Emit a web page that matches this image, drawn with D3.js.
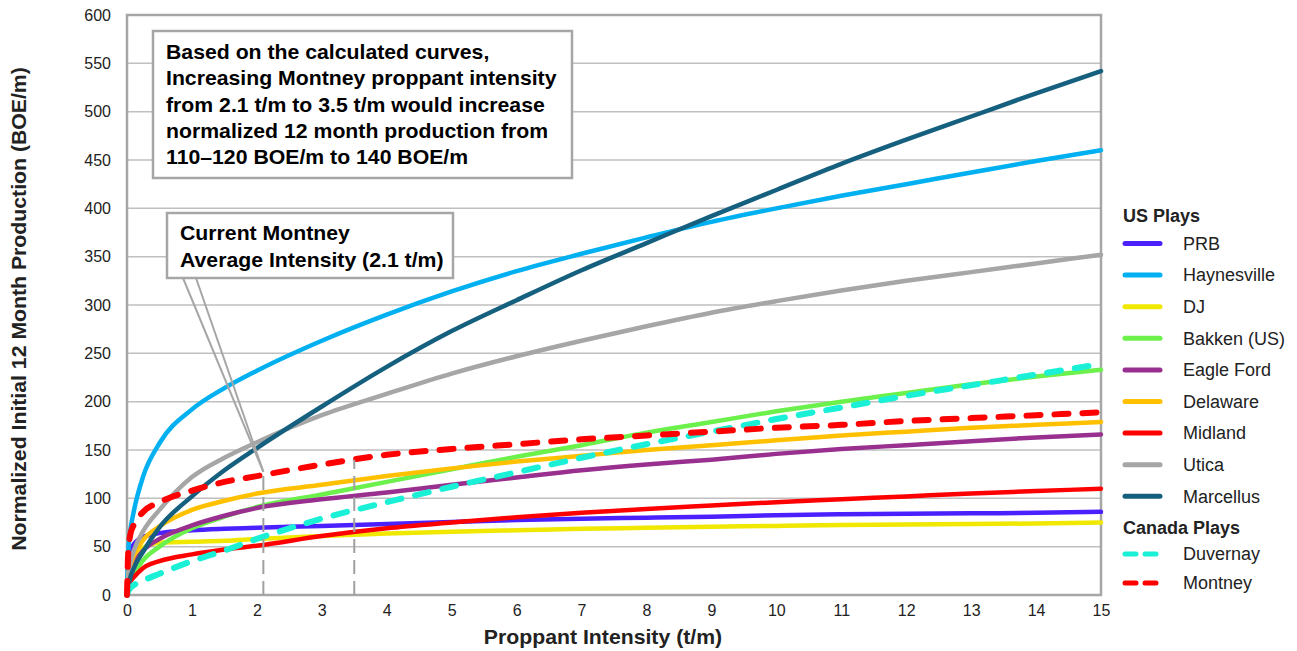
<!DOCTYPE html>
<html>
<head>
<meta charset="utf-8">
<script src="https://cdn.jsdelivr.net/npm/d3@7"></script>
<style>
  html, body { margin: 0; padding: 0; background: #fff; }
  svg { display: block; font-family: "Liberation Sans", Arial, sans-serif; }
</style>
</head>
<body>
<svg id="chart" width="1297" height="651"></svg>
<script>
// Proppant intensity (t/m) sample points shared by every curve
const intensity = [0, 0.02, 0.05, 0.1, 0.25, 0.5, 1, 1.5, 2, 3, 4, 5, 6, 7, 8, 9, 10, 11, 12, 13, 14, 15];

// Normalized initial 12 month production (BOE/m) per play
const prb         = [0, 28, 42, 52, 60, 64, 67, 68.5, 69.5, 71.5, 73.5, 75.5, 77.5, 79, 80, 81, 82.5, 83.5, 84, 84.5, 85, 86];
const haynesville = [0, 45, 66, 85, 123, 157, 192, 214, 232, 263, 290, 314, 335, 353, 370, 386, 400, 413, 425, 437, 449, 460];
const dj          = [0, 18, 29, 38, 49, 54, 55, 56, 58, 61, 63.5, 65.5, 67, 68.5, 69.5, 70.5, 71.5, 72.5, 73, 73.5, 74, 75];
const bakken      = [0, 10, 15, 21, 36, 50, 69, 81, 91, 104, 117, 130, 143, 155, 168, 179, 190, 200, 209, 218, 226, 233];
const eagleFord   = [0, 18, 25, 32, 46, 58, 72, 82, 90, 99, 106, 114, 121.5, 129, 135, 140, 146, 151, 155, 159, 163, 166];
const delaware    = [0, 20, 30, 40, 57, 71, 88, 97.5, 105, 114, 123, 131, 138, 144, 150, 155, 160, 165, 169, 173, 176, 179];
const midland     = [0, 10, 14, 18, 28, 35, 42, 47, 51, 61, 69, 75, 80.5, 85, 89, 92.5, 96, 99, 102, 105, 107.5, 110];
const utica       = [0, 20, 33, 45, 66, 88, 122, 142, 158, 186, 208, 229, 247, 263, 278, 292, 304, 315, 325, 334, 343, 352];
const marcellus   = [0, 8, 18, 27, 45, 70, 102, 129, 152, 195, 236, 273, 305, 336, 364, 392, 419, 446, 471, 495, 519, 542];
const duvernay    = [0, 4, 7, 10, 15, 22, 35, 46, 58, 79, 96, 112, 127, 142, 156, 169, 182, 194, 206, 217, 228, 239];
const montney     = [0, 45, 62, 72, 86, 96, 108, 117, 123, 135, 145, 151, 156, 161, 165, 169, 173, 176, 180, 183, 186, 189];

// Series names, grouping and styling
const usPlays     = ["PRB", "Haynesville", "DJ", "Bakken (US)", "Eagle Ford", "Delaware", "Midland", "Utica", "Marcellus"];
const canadaPlays = ["Duvernay", "Montney"];
const seriesValues = [prb, haynesville, dj, bakken, eagleFord, delaware, midland, utica, marcellus, duvernay, montney];
const seriesColors = ["#4B20FF", "#00B0F0", "#F0E800", "#6CF04C", "#99308F", "#FFC000", "#FF0000", "#A6A6A6", "#16607F", "#19F0D6", "#FF0000"];

// Axis ticks
const xTicks = d3.range(0, 16, 1);
const yTicks = d3.range(0, 601, 50);

// Current and proposed Montney intensities (t/m)
const montneyIntensities = [2.1, 3.5];

// Callout texts
const summaryLines = [
  "Based on the calculated curves,",
  "Increasing Montney proppant intensity",
  "from 2.1 t/m to 3.5 t/m would increase",
  "normalized 12 month production from",
  "110\u2013120 BOE/m to 140 BOE/m"
];
const currentLines = ["Current Montney", "Average Intensity (2.1 t/m)"];

const svg = d3.select("#chart");
const plot = { left: 127, right: 1101, top: 15, bottom: 595 };

const x = d3.scaleLinear().domain([0, 15]).range([plot.left, plot.right]);
const y = d3.scaleLinear().domain([0, 600]).range([plot.bottom, plot.top]);

const gridColor = "#BFBFBF";
const frameColor = "#A6A6A6";
const wide = 1.09; // horizontal stretch used for the bold titles and callouts

// Horizontal gridlines
svg.append("g")
  .selectAll("line")
  .data(yTicks.filter(d => d > 0 && d < 600))
  .join("line")
  .attr("x1", plot.left).attr("x2", plot.right)
  .attr("y1", d => y(d)).attr("y2", d => y(d))
  .attr("stroke", gridColor).attr("stroke-width", 1.5);

// Y axis labels
const yAxis = d3.axisLeft(y).tickValues(yTicks).tickSize(0).tickPadding(16);
svg.append("g")
  .attr("transform", `translate(${plot.left},0)`)
  .call(yAxis)
  .call(g => g.select(".domain").remove())
  .call(g => g.selectAll("text").attr("font-size", 16).attr("fill", "#222")
    .attr("font-family", "'Liberation Sans', Arial, sans-serif"));

// X axis labels
const xAxis = d3.axisBottom(x).tickValues(xTicks).tickSize(0).tickPadding(10).tickFormat(d3.format("d"));
svg.append("g")
  .attr("transform", `translate(0,${plot.bottom})`)
  .call(xAxis)
  .call(g => g.select(".domain").remove())
  .call(g => g.selectAll("text").attr("font-size", 16).attr("fill", "#222")
    .attr("font-family", "'Liberation Sans', Arial, sans-serif"));

// Plot frame
svg.append("rect")
  .attr("x", plot.left).attr("y", plot.top)
  .attr("width", plot.right - plot.left).attr("height", plot.bottom - plot.top)
  .attr("fill", "none").attr("stroke", frameColor).attr("stroke-width", 2.5);

// Axis titles
svg.append("text")
  .attr("transform", `translate(${(plot.left + plot.right) / 2 - 11},644) scale(${wide},1)`)
  .attr("text-anchor", "middle")
  .attr("font-size", 19.5).attr("font-weight", "bold").attr("fill", "#222")
  .text("Proppant Intensity (t/m)");

svg.append("text")
  .attr("transform", `translate(26,${(plot.top + plot.bottom) / 2 + 4}) rotate(-90) scale(${wide},1)`)
  .attr("text-anchor", "middle")
  .attr("font-size", 19.5).attr("font-weight", "bold").attr("fill", "#222")
  .text("Normalized Initial 12 Month Production (BOE/m)");

// Curves
const names = usPlays.concat(canadaPlays);
const series = names.map((name, i) => ({
  name,
  color: seriesColors[i],
  dashed: canadaPlays.includes(name),
  points: intensity.map((t, j) => [t, seriesValues[i][j]])
}));

const line = d3.line()
  .x(d => x(d[0]))
  .y(d => y(d[1]))
  .curve(d3.curveMonotoneX);

const curves = svg.append("g").attr("fill", "none");
series.forEach(s => {
  curves.append("path")
    .attr("d", line(s.points))
    .attr("stroke", s.color)
    .attr("stroke-width", s.dashed ? 6 : 4.5)
    .attr("stroke-linecap", "round")
    .attr("stroke-linejoin", "round")
    .attr("stroke-dasharray", s.dashed ? "14,14" : null);
});

// Vertical markers from the axis up to the Montney curve
const montneyAt = t => {
  const i = d3.bisectRight(intensity, t) - 1;
  const t0 = intensity[i], t1 = intensity[i + 1];
  return montney[i] + (montney[i + 1] - montney[i]) * (t - t0) / (t1 - t0);
};
svg.append("g")
  .selectAll("line")
  .data(montneyIntensities)
  .join("line")
  .attr("x1", d => x(d)).attr("x2", d => x(d))
  .attr("y1", y(0)).attr("y2", d => y(montneyAt(d)))
  .attr("stroke", "#A0A0A0").attr("stroke-width", 2)
  .attr("stroke-dasharray", "14,7");

// Bold multi-line callout text, stretched slightly in x
function calloutText(lines, left, firstBaseline, step) {
  svg.append("g")
    .selectAll("text")
    .data(lines)
    .join("text")
    .attr("transform", (d, i) => `translate(${left},${firstBaseline + i * step}) scale(${wide},1)`)
    .attr("font-size", 19.5).attr("font-weight", "bold").attr("fill", "#000")
    .text(d => d);
}

// Callout: current Montney intensity
const boxStroke = "#A6A6A6";
const cur = { x: 167, y: 213, w: 286, h: 65 };
const tipX = x(montneyIntensities[0]);
const tipY = y(montneyAt(montneyIntensities[0])) - 3;
svg.append("g")
  .selectAll("line")
  .data([cur.x + 16, cur.x + 29])
  .join("line")
  .attr("x1", d => d).attr("y1", cur.y + cur.h)
  .attr("x2", tipX).attr("y2", tipY)
  .attr("stroke", boxStroke).attr("stroke-width", 2);

svg.append("rect")
  .attr("x", cur.x).attr("y", cur.y).attr("width", cur.w).attr("height", cur.h)
  .attr("fill", "#fff").attr("stroke", boxStroke).attr("stroke-width", 2.5);
calloutText(currentLines, cur.x + 13, cur.y + 27, 27);

// Callout: summary
const sum = { x: 153, y: 31, w: 419, h: 147 };
svg.append("rect")
  .attr("x", sum.x).attr("y", sum.y).attr("width", sum.w).attr("height", sum.h)
  .attr("fill", "#fff").attr("stroke", boxStroke).attr("stroke-width", 2.5);
calloutText(summaryLines, sum.x + 13, sum.y + 28, 26.3);

// Legend
const legend = svg.append("g").attr("transform", "translate(1123,0)");
const rowGap = 31.6;
const legendRows = [];
legendRows.push({ header: "US Plays", y: 216 });
usPlays.forEach((n, i) => legendRows.push({ name: n, y: 243.5 + i * rowGap }));
legendRows.push({ header: "Canada Plays", y: 528 });
canadaPlays.forEach((n, i) => legendRows.push({ name: n, y: 554 + i * 29 }));

legendRows.forEach(r => {
  if (r.header) {
    legend.append("text")
      .attr("x", 0).attr("y", r.y).attr("dy", "0.35em")
      .attr("font-size", 18).attr("font-weight", "bold").attr("fill", "#222")
      .text(r.header);
  } else {
    const s = series.find(d => d.name === r.name);
    legend.append("line")
      .attr("x1", 2).attr("x2", s.dashed ? 36 : 37)
      .attr("y1", r.y).attr("y2", r.y)
      .attr("stroke", s.color)
      .attr("stroke-width", 5)
      .attr("stroke-linecap", "round")
      .attr("stroke-dasharray", s.dashed ? "11,9" : null);
    legend.append("text")
      .attr("x", 60).attr("y", r.y).attr("dy", "0.35em")
      .attr("font-size", 18).attr("fill", "#222")
      .text(r.name);
  }
});
</script>
</body>
</html>
